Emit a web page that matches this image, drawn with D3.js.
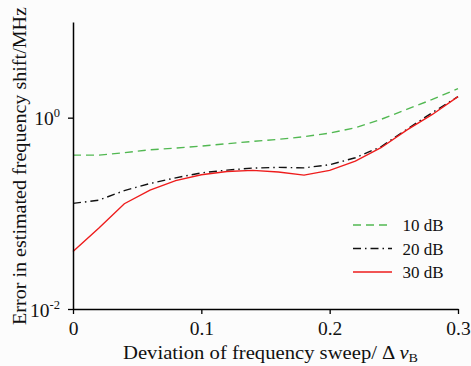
<!DOCTYPE html>
<html>
<head>
<meta charset="utf-8">
<script src="https://cdn.jsdelivr.net/npm/d3@7"></script>
<style>
  body { margin: 0; background: #fcfcfc; }
  svg { display: block; }
  svg text { font-family: "Liberation Serif", "Times New Roman", Times, serif; }
</style>
</head>
<body>
<div id="chart"></div>
<script>
let width = 471;
let height = 366;

// deviation of frequency sweep (in units of delta nu_B)
let deviation = [0, 0.02, 0.04, 0.06, 0.08, 0.10, 0.12, 0.14, 0.16, 0.18, 0.20, 0.22, 0.24, 0.26, 0.28, 0.30];
// error in estimated frequency shift, MHz
let err10dB = [0.406, 0.406, 0.430, 0.462, 0.481, 0.505, 0.534, 0.565, 0.593, 0.632, 0.690, 0.785, 0.960, 1.22, 1.55, 2.01];
let err20dB = [0.127, 0.137, 0.173, 0.205, 0.235, 0.265, 0.283, 0.297, 0.302, 0.299, 0.322, 0.381, 0.497, 0.754, 1.13, 1.66];
let err30dB = [0.040, 0.070, 0.126, 0.175, 0.220, 0.253, 0.274, 0.281, 0.270, 0.251, 0.281, 0.351, 0.485, 0.742, 1.08, 1.66];

let seriesNames = ["10 dB", "20 dB", "30 dB"];
let xTicks = [0, 0.1, 0.2, 0.3];
let yTicks = [1e-2, 1e0];

let series = [
    {name: seriesNames[0], values: err10dB, color: "#52b852", dash: "8,5"},
    {name: seriesNames[1], values: err20dB, color: "#111111", dash: "8,4,1.5,4"},
    {name: seriesNames[2], values: err30dB, color: "#ee1c1c", dash: null}
];

let margin = {left: 73, right: 13, top: 22, bottom: 57};

let x = d3.scaleLinear()
    .domain([0, 0.3])
    .range([margin.left, width - margin.right]);
let y = d3.scaleLog()
    .domain([1e-2, 1e1])
    .range([height - margin.bottom, margin.top]);

let svg = d3.select("#chart")
    .append("svg")
    .attr("width", width)
    .attr("height", height);

// lines
let line = d3.line()
    .x((d, i) => x(deviation[i]))
    .y(d => y(d));

svg.append("g")
    .selectAll("path")
    .data(series)
    .enter()
    .append("path")
        .attr("d", d => line(d.values))
        .attr("fill", "none")
        .attr("stroke", d => d.color)
        .attr("stroke-width", 1.4)
        .attr("stroke-dasharray", d => d.dash);

// axes
let xAxis = svg.append("g")
    .attr("transform", `translate(0,${y(1e-2)})`)
    .call(d3.axisBottom(x).tickValues(xTicks).tickSize(5).tickSizeOuter(0)
        .tickFormat(d => d === 0 ? "0" : d3.format(".1f")(d)))
    .attr("font-family", null)
    .attr("font-size", 19.5);
xAxis.select(".domain").attr("stroke-width", 1.5);
xAxis.selectAll(".tick line").attr("stroke-width", 1.3);
xAxis.selectAll(".tick text")
    .attr("y", 26)
    .attr("dy", 0)
    .attr("fill", "#111");

let yAxis = svg.append("g")
    .attr("transform", `translate(${margin.left},0)`)
    .call(d3.axisLeft(y).tickValues(yTicks).tickSize(5).tickSizeOuter(0).tickFormat(""))
    .attr("font-family", null);
yAxis.select(".domain").attr("stroke-width", 1.5);
yAxis.selectAll(".tick line").attr("stroke-width", 1.3);

// y tick labels as 10 with superscript exponent
yAxis.selectAll(".tick")
    .append("text")
        .attr("x", -13)
        .attr("y", 7)
        .attr("text-anchor", "end")
        .attr("fill", "#111")
        .attr("font-size", 19.5)
        .each(function(d) {
            let t = d3.select(this);
            t.append("tspan").text("10");
            t.append("tspan")
                .attr("font-size", 12.5)
                .attr("dy", -8)
                .text(String(Math.round(Math.log10(d))));
        });

// axis titles
svg.append("text")
    .attr("transform", "translate(25.5,166) rotate(-90)")
    .attr("text-anchor", "middle")
    .attr("font-size", 19)
    .attr("textLength", 318)
    .attr("lengthAdjust", "spacingAndGlyphs")
    .attr("fill", "#111")
    .text("Error in estimated frequency shift/MHz");

let xTitle = svg.append("text")
    .attr("x", 123)
    .attr("y", 359)
    .attr("font-size", 19)
    .attr("textLength", 295)
    .attr("lengthAdjust", "spacingAndGlyphs")
    .attr("fill", "#111");
xTitle.append("tspan").text("Deviation of frequency sweep/ \u0394 ");
xTitle.append("tspan").attr("font-style", "italic").text("\u03bd");
xTitle.append("tspan").attr("font-size", 13).attr("dy", 3).text("B");

// legend
let legend = svg.append("g")
    .selectAll("g")
    .data(series)
    .enter()
    .append("g")
        .attr("transform", (d, i) => `translate(353,${225 + i * 23.5})`);
legend.append("line")
    .attr("x1", 0).attr("x2", 39)
    .attr("stroke", d => d.color)
    .attr("stroke-width", 1.4)
    .attr("stroke-dasharray", d => d.dash);
legend.append("text")
    .attr("x", 49.5)
    .attr("y", 6)
    .attr("font-size", 17)
    .attr("fill", "#111")
    .text(d => d.name);
</script>
</body>
</html>
